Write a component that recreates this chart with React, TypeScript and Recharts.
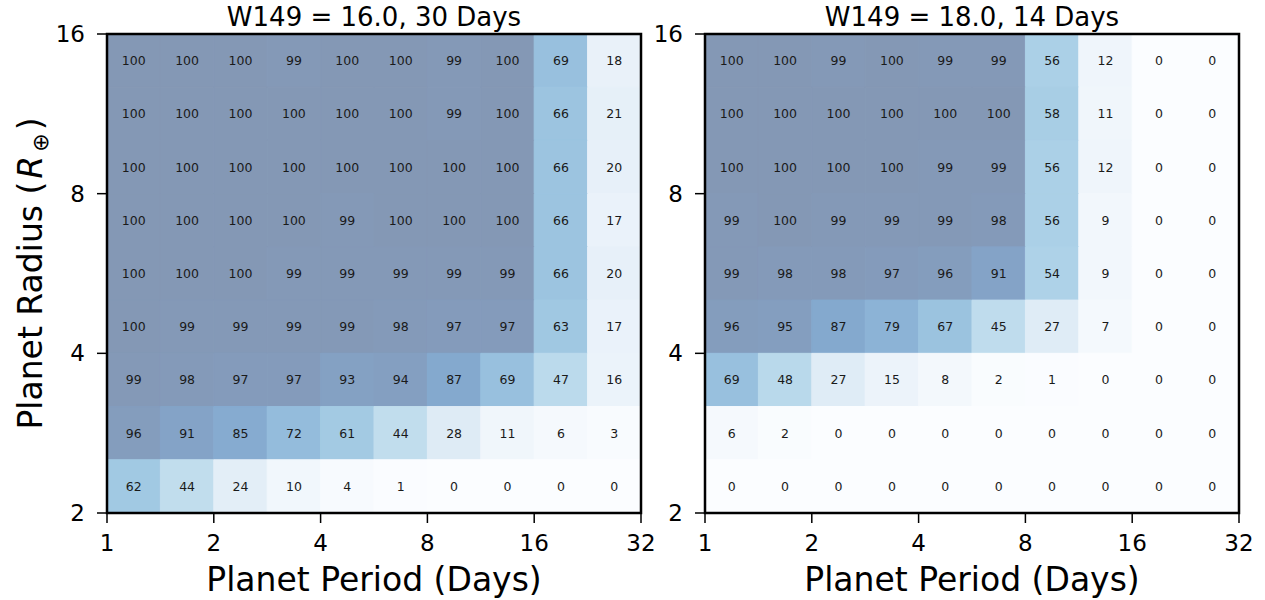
import { ScatterChart, Scatter, XAxis, YAxis, ReferenceArea } from "recharts";

// bins: period in half-octaves from 1 to 32 d, radius in third-octaves from 2 to 16 R_earth
const PERIOD_TICKS = [1, 2, 4, 8, 16, 32];
const RADIUS_TICKS = [2, 4, 8, 16];
const PERIOD_EDGES = Array.from({ length: 11 }, (_, i) => 2 ** (i / 2));
const RADIUS_EDGES = Array.from({ length: 10 }, (_, j) => 2 * 2 ** (j / 3));

// detection efficiency (%), rows listed from the largest radius bin down
const BRIGHT_30D = [
  [100, 100, 100, 99, 100, 100, 99, 100, 69, 18],
  [100, 100, 100, 100, 100, 100, 99, 100, 66, 21],
  [100, 100, 100, 100, 100, 100, 100, 100, 66, 20],
  [100, 100, 100, 100, 99, 100, 100, 100, 66, 17],
  [100, 100, 100, 99, 99, 99, 99, 99, 66, 20],
  [100, 99, 99, 99, 99, 98, 97, 97, 63, 17],
  [99, 98, 97, 97, 93, 94, 87, 69, 47, 16],
  [96, 91, 85, 72, 61, 44, 28, 11, 6, 3],
  [62, 44, 24, 10, 4, 1, 0, 0, 0, 0],
];

const FAINT_14D = [
  [100, 100, 99, 100, 99, 99, 56, 12, 0, 0],
  [100, 100, 100, 100, 100, 100, 58, 11, 0, 0],
  [100, 100, 100, 100, 99, 99, 56, 12, 0, 0],
  [99, 100, 99, 99, 99, 98, 56, 9, 0, 0],
  [99, 98, 98, 97, 96, 91, 54, 9, 0, 0],
  [96, 95, 87, 79, 67, 45, 27, 7, 0, 0],
  [69, 48, 27, 15, 8, 2, 1, 0, 0, 0],
  [6, 2, 0, 0, 0, 0, 0, 0, 0, 0],
  [0, 0, 0, 0, 0, 0, 0, 0, 0, 0],
];

const FONT = "'DejaVu Sans', sans-serif";

const BLUES = [
  [247, 251, 255], [222, 235, 247], [198, 219, 239], [158, 202, 225],
  [107, 174, 214], [66, 146, 198], [33, 113, 181], [8, 81, 156], [8, 48, 107],
];

// matplotlib "Blues" at alpha 0.5 over white
function cellColor(v: number) {
  const p = Math.min(Math.max(v / 100, 0), 1) * (BLUES.length - 1);
  const i = Math.min(Math.floor(p), BLUES.length - 2);
  const f = p - i;
  const rgb = BLUES[i].map((c, k) => c + (BLUES[i + 1][k] - c) * f);
  const [r, g, b] = rgb.map((c) => Math.round(c * 0.5 + 255 * 0.5));
  return `rgb(${r},${g},${b})`;
}

function toCells(grid: number[][]) {
  const n = grid.length;
  const out: { x: number; y: number; x1: number; x2: number; y1: number; y2: number; v: number }[] = [];
  grid.forEach((row, r) => {
    const j = n - 1 - r;
    row.forEach((v, i) => {
      out.push({
        x: 2 ** ((i + 0.5) / 2),
        y: 2 * 2 ** ((j + 0.5) / 3),
        x1: PERIOD_EDGES[i],
        x2: PERIOD_EDGES[i + 1],
        y1: RADIUS_EDGES[j],
        y2: RADIUS_EDGES[j + 1],
        v,
      });
    });
  });
  return out;
}

const tickStyle = { fontSize: 23, fill: "#000", fontFamily: FONT };

function CellLabel(props: any) {
  const { cx, cy, payload } = props;
  if (cx == null || cy == null) return <g />;
  return (
    <text
      x={cx}
      y={cy}
      textAnchor="middle"
      dominantBaseline="central"
      fontSize={12.5}
      fontFamily={FONT}
      fill="#1a1a1a"
    >
      {payload.v}
    </text>
  );
}

function Panel({
  grid,
  title,
  left,
  width,
  marginLeft,
  marginRight,
  showYLabel,
}: {
  grid: number[][];
  title: string;
  left: number;
  width: number;
  marginLeft: number;
  marginRight: number;
  showYLabel: boolean;
}) {
  const cells = toCells(grid);
  const plotLeft = marginLeft + 60;
  const plotRight = width - marginRight;
  const midX = (plotLeft + plotRight) / 2;

  return (
    <div style={{ position: "absolute", left, top: 0, width, height: 600 }}>
      <div
        style={{
          position: "absolute",
          left: 0,
          width: midX * 2,
          top: 0,
          textAlign: "center",
          fontFamily: FONT,
          fontSize: 26,
          lineHeight: "34px",
          color: "#000",
        }}
      >
        {title}
      </div>
      <ScatterChart
        width={width}
        height={600}
        margin={{ top: 34, right: marginRight, bottom: 27, left: marginLeft }}
      >
        <XAxis
          type="number"
          dataKey="x"
          scale="log"
          domain={[1, 32]}
          ticks={PERIOD_TICKS}
          interval={0}
          allowDataOverflow
          height={60}
          axisLine={false}
          tickLine={{ stroke: "#000", strokeWidth: 1.5 }}
          tickSize={10}
          tickMargin={12}
          tick={tickStyle}
          label={{
            content: () => (
              <text x={midX} y={591} textAnchor="middle" fontSize={33} fontFamily={FONT} fill="#000">
                Planet Period (Days)
              </text>
            ),
          }}
        />
        <YAxis
          type="number"
          dataKey="y"
          scale="log"
          domain={[2, 16]}
          ticks={RADIUS_TICKS}
          interval={0}
          allowDataOverflow
          width={60}
          axisLine={false}
          tickLine={{ stroke: "#000", strokeWidth: 1.5 }}
          tickSize={10}
          tickMargin={12}
          tick={tickStyle}
          label={
            showYLabel
              ? {
                  content: () => (
                    <text
                      transform="translate(42,273.5) rotate(-90)"
                      textAnchor="middle"
                      fontSize={33}
                      fontFamily={FONT}
                      fill="#000"
                    >
                      Planet Radius (
                      <tspan fontStyle="italic" dx={3}>R</tspan>
                      <tspan fontSize={22} dx={4} dy={6}>⊕</tspan>
                      <tspan dx={3} dy={-6}>)</tspan>
                    </text>
                  ),
                }
              : undefined
          }
        />
        {cells.map((c, k) => {
          const col = cellColor(c.v);
          return (
            <ReferenceArea
              key={k}
              x1={c.x1}
              x2={c.x2}
              y1={c.y1}
              y2={c.y2}
              fill={col}
              fillOpacity={1}
              stroke={col}
              strokeWidth={1}
              ifOverflow="extendDomain"
            />
          );
        })}
        <ReferenceArea
          x1={1}
          x2={32}
          y1={2}
          y2={16}
          fill="none"
          fillOpacity={0}
          stroke="#000"
          strokeWidth={2.5}
        />
        <Scatter data={cells} isAnimationActive={false} shape={CellLabel} />
      </ScatterChart>
    </div>
  );
}

export default function App() {
  return (
    <div style={{ position: "absolute", left: 0, top: 0, width: 1265, height: 600, background: "#fff" }}>
      <Panel
        grid={BRIGHT_30D}
        title="W149 = 16.0, 30 Days"
        left={0}
        width={660}
        marginLeft={47}
        marginRight={19}
        showYLabel
      />
      <Panel
        grid={FAINT_14D}
        title="W149 = 18.0, 14 Days"
        left={640}
        width={625}
        marginLeft={5}
        marginRight={26}
        showYLabel={false}
      />
    </div>
  );
}
